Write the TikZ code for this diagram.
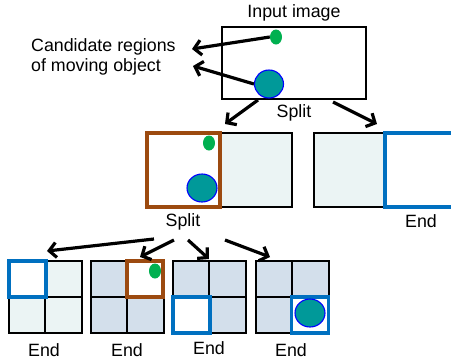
\documentclass[tikz,border=0pt]{standalone}
\usepackage{fontspec}
\setmainfont{Liberation Sans}
\usetikzlibrary{arrows.meta,shapes.geometric}
\definecolor{cellpale}{HTML}{EBF4F4}
\definecolor{cellblue}{HTML}{D3DFEB}
\definecolor{splitbrown}{HTML}{9C4A10}
\definecolor{endblue}{HTML}{0070C0}
\definecolor{objteal}{HTML}{009999}
\definecolor{objgreen}{HTML}{00B050}
\tikzset{
  lbl/.style={font=\fontsize{17.8}{20.7}\selectfont, inner sep=0pt},
  frame/.style={draw=black, line width=2pt, inner sep=0pt},
  brownbox/.style={draw=splitbrown, line width=3.3pt},
  bluebox/.style={draw=endblue, line width=3.5pt},
  bigobj/.style={ellipse, draw=blue, line width=1.1pt, fill=objteal, inner sep=0pt},
  smallobj/.style={ellipse, fill=objgreen, inner sep=0pt, minimum width=12pt, minimum height=15pt},
  flow/.style={line width=3.2pt, -{Straight Barb[length=7pt,width=15pt]}},
}
\begin{document}
\begin{tikzpicture}[x=1pt,y=-1pt]
\useasboundingbox (0,0) rectangle (451,360);

% input image with the two candidate objects
\node[frame, minimum width=144pt, minimum height=72pt] (input) at (294,63) {};
\node[lbl] (inlbl) at (294,13) {Input image};
\node[smallobj] (g0) at (276,37) {};
\node[bigobj, minimum width=29pt, minimum height=28pt] (t0) at (269,84) {};
\node[lbl, align=left, anchor=west] (cand) at (31,57) {Candidate regions\\of moving object};
\coordinate (c1) at (192,49);
\coordinate (c2) at (193,66);
\draw[flow] (g0.west) -- (c1);
\draw[flow] (t0.west) -- (c2);

% first split into two halves
\coordinate (s0a) at (258,100);
\coordinate (s0b) at (333,102);
\coordinate (h1) at (225,124);
\coordinate (h2) at (377,124);
\draw[flow] (s0a) -- (h1);
\draw[flow] (s0b) -- (h2);
\node[lbl] (split0) at (294,113) {Split};

% left half (split again)
\fill[cellpale] (220,133) rectangle (292,207);
\draw[line width=2pt] (147,133) rectangle (292,207);
\node[draw=splitbrown, line width=3.3pt, fill=white, minimum width=73pt, minimum height=74pt, inner sep=0pt] (lh) at (183.5,170) {};
\node[smallobj] (g1) at (209,143) {};
\node[bigobj, minimum width=30pt, minimum height=28pt] (t1) at (202,188) {};
\node[lbl] (split1) at (183,222) {Split};

% right half (end)
\fill[cellpale] (314,133) rectangle (385,207);
\draw[line width=2pt] (314,133) rectangle (385,207);
\node[draw=endblue, line width=3.5pt, fill=white, minimum width=72pt, minimum height=74pt, inner sep=0pt] (rh) at (421,170) {};
\node[lbl] (end0) at (421,221) {End};

% quarters of the left half
\foreach \x/\f/\n in {9/cellpale/q1, 91/cellblue/q2, 173/cellblue/q3, 256/cellblue/q4}{
  \fill[\f] (\x,261) rectangle ++(72.5,72);
  \draw[line width=2pt] (\x,261) rectangle ++(72.5,72);
  \draw[line width=2pt] ({\x+36.25},261) -- ++(0,72);
  \draw[line width=2pt] (\x,297) -- ++(72.5,0);
}
\node[bluebox, fill=white, minimum width=37pt, minimum height=36pt, inner sep=0pt] (b1) at (27.5,279) {};
\node[brownbox, fill=white, minimum width=36pt, minimum height=36pt, inner sep=0pt] (b2) at (145,279) {};
\node[bluebox, fill=white, minimum width=37pt, minimum height=36pt, inner sep=0pt] (b3) at (191.5,315) {};
\node[bluebox, fill=white, minimum width=37pt, minimum height=36pt, inner sep=0pt] (b4) at (310,315) {};
\node[smallobj] (g2) at (155,271) {};
\node[bigobj, minimum width=30pt, minimum height=28pt] (t2) at (310,313) {};

\node[lbl] (end1) at (44,350) {End};
\node[lbl] (end2) at (127,350) {End};
\node[lbl] (end3) at (209,348) {End};
\node[lbl] (end4) at (291,350) {End};

% second split into four quarters
\coordinate (s1a) at (154,239);
\coordinate (s1b) at (174,240);
\coordinate (s1c) at (188,240);
\coordinate (s1d) at (225,240);
\coordinate (q1t) at (47,251);
\coordinate (q2t) at (140,257);
\coordinate (q3t) at (209,259);
\coordinate (q4t) at (270,257);
\draw[flow] (s1a) -- (q1t);
\draw[flow] (s1b) -- (q2t);
\draw[flow] (s1c) -- (q3t);
\draw[flow] (s1d) -- (q4t);
\end{tikzpicture}
\end{document}
